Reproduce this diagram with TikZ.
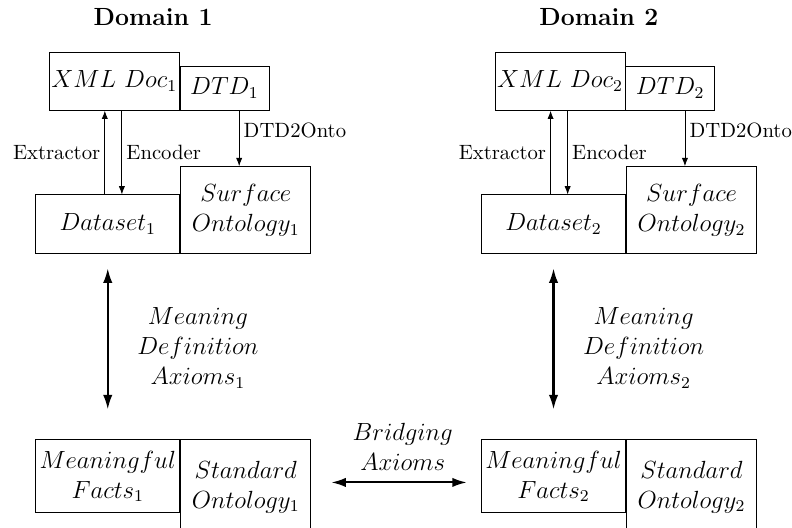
\documentclass[tikz,border=0pt,11pt]{standalone}
\usepackage{amsmath,amssymb}
\usepackage{tikz}
\usetikzlibrary{arrows.meta,positioning}

\tikzset{
  box/.style={draw,inner sep=1pt,align=center,font=\fontsize{12}{14.5}\selectfont},
  txt/.style={align=center,font=\fontsize{12}{14.5}\selectfont},
  lbl/.style={font=\small,inner sep=2pt},
  fine/.style={-{Latex[length=4pt,width=3pt]}},
  heavy/.style={line width=1pt,{Latex[length=7pt,width=4.5pt]}-{Latex[length=7pt,width=4.5pt]}}
}

\begin{document}
\begin{tikzpicture}[>=Latex]
  \def\dx{7.57}
  \useasboundingbox (0,0) rectangle (13.45,8.95);
  \clip (0,0) rectangle (13.45,8.95);
  % domain 1: documents and surface ontology
  \node[font=\large\bfseries] (dom1) at (2.60,8.66) {Domain 1};
  \node[box,minimum width=2.19cm,minimum height=0.985cm] (xml1) at (1.94,7.57) {$XML\ Doc_1$};
  \node[box,minimum width=1.51cm,minimum height=0.75cm,anchor=south west] (dtd1) at (xml1.south east) {$DTD_1$};
  \node[box,minimum width=2.45cm,minimum height=1.0cm] (data1) at (1.83,5.14) {$Dataset_1$};
  \node[box,minimum width=2.21cm,minimum height=1.48cm,anchor=south west] (surf1) at (data1.south east) {$Surface$\\$Ontology_1$};
  \draw[fine] ([xshift=-0.16cm]xml1.south |- data1.north) -- ([xshift=-0.16cm]xml1.south)
    node[lbl,midway,left] {Extractor};
  \draw[fine] ([xshift=0.13cm]xml1.south) -- ([xshift=0.13cm]xml1.south |- data1.north)
    node[lbl,midway,right] {Encoder};
  \draw[fine] ([xshift=0.25cm]dtd1.south) -- ([xshift=0.25cm]dtd1.south |- surf1.north)
    node[lbl,pos=0.35,right] {DTD2Onto};
  % domain 1: facts and standard ontology
  \node[box,minimum width=2.45cm,minimum height=1.24cm] (facts1) at (1.83,0.86) {$Meaningful$\\$Facts_1$};
  \node[box,minimum width=2.21cm,minimum height=1.6cm,anchor=north west] (std1) at (facts1.north east) {$Standard$\\$Ontology_1$};
  \draw[heavy] ([yshift=-0.24cm]data1.south) -- ([yshift=0.51cm]facts1.north);
  \node[txt] (mda1) at (3.36,3.04) {$Meaning$\\$Definition$\\$Axioms_1$};

  % domain 2: documents and surface ontology
  \node[font=\large\bfseries] (dom2) at (2.60+\dx,8.66) {Domain 2};
  \node[box,minimum width=2.19cm,minimum height=0.985cm] (xml2) at (1.94+\dx,7.57) {$XML\ Doc_2$};
  \node[box,minimum width=1.51cm,minimum height=0.75cm,anchor=south west] (dtd2) at (xml2.south east) {$DTD_2$};
  \node[box,minimum width=2.45cm,minimum height=1.0cm] (data2) at (1.83+\dx,5.14) {$Dataset_2$};
  \node[box,minimum width=2.21cm,minimum height=1.48cm,anchor=south west] (surf2) at (data2.south east) {$Surface$\\$Ontology_2$};
  \draw[fine] ([xshift=-0.16cm]xml2.south |- data2.north) -- ([xshift=-0.16cm]xml2.south)
    node[lbl,midway,left] {Extractor};
  \draw[fine] ([xshift=0.13cm]xml2.south) -- ([xshift=0.13cm]xml2.south |- data2.north)
    node[lbl,midway,right] {Encoder};
  \draw[fine] ([xshift=0.25cm]dtd2.south) -- ([xshift=0.25cm]dtd2.south |- surf2.north)
    node[lbl,pos=0.35,right] {DTD2Onto};
  % domain 2: facts and standard ontology
  \node[box,minimum width=2.45cm,minimum height=1.24cm] (facts2) at (1.83+\dx,0.86) {$Meaningful$\\$Facts_2$};
  \node[box,minimum width=2.21cm,minimum height=1.6cm,anchor=north west] (std2) at (facts2.north east) {$Standard$\\$Ontology_2$};
  \draw[heavy] ([yshift=-0.24cm]data2.south) -- ([yshift=0.51cm]facts2.north);
  \node[txt] (mda2) at (3.36+\dx,3.04) {$Meaning$\\$Definition$\\$Axioms_2$};

  % bridge between the standard ontologies
  \draw[heavy] ([xshift=0.34cm,yshift=-0.73cm]std1.north east) -- ([xshift=-0.24cm,yshift=-0.73cm]facts2.north west);
  \node[txt] (brg) at (6.84,1.36) {$Bridging$\\$Axioms$};
\end{tikzpicture}
\end{document}
